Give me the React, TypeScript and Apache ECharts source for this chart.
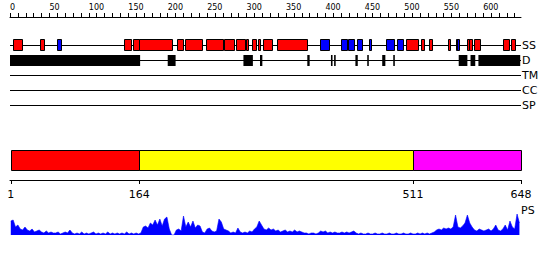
import React, { useEffect, useRef } from "react";
import * as echarts from "echarts";

const SEQ_LENGTH = 648;
const trackNames = ["SS", "D", "TM", "CC", "SP"];
const topTickValues = Array.from({ length: 65 }, (_, i) => i * 10);
const topLabelValues = [0, 50, 100, 150, 200, 250, 300, 350, 400, 450, 500, 550, 600];
const bottomLabelValues = [1, 164, 511, 648];

// secondary structure: helix (red) and strand (blue) segments [start, end]
const helixSegments = [
  [4, 15], [38, 43], [145, 154], [156, 163], [163, 205], [212, 220], [222, 244],
  [248, 270], [272, 285], [286, 298], [299, 302], [307, 312], [315, 318], [321, 332],
  [338, 376], [502, 517], [521, 525], [531, 535], [555, 557], [579, 582], [582, 586],
  [589, 597], [625, 633], [635, 640],
];
const strandSegments = [
  [59, 64], [393, 405], [420, 427], [429, 436], [440, 446], [455, 458], [477, 487],
  [491, 498], [565, 567], [567, 570],
];
// disorder segments [start, end]
const disorderSegments = [
  [0, 165], [200, 210], [296, 308], [317, 320], [377, 380], [407, 409], [411, 413],
  [438, 441], [453, 455], [472, 476], [486, 488], [569, 580], [584, 590], [594, 647],
];
// domains
const domainStarts = [1, 164, 511];
const domainEnds = [164, 511, 648];
const domainColors = ["#ff0000", "#ffff00", "#ff00ff"];

// PS profile, one value every 3 residues starting at residue 1
const psStart = 1;
const psStep = 3;
const psValues = [
  14, 15, 8, 10, 6, 5, 8, 5, 4, 6, 3, 4, 5, 3, 2, 4, 2, 3, 2, 2,
  3, 1, 2, 3, 2, 5, 2, 1, 2, 1, 3, 1, 2, 1, 2, 3, 1, 2, 1, 2,
  1, 3, 1, 2, 1, 2, 1, 2, 1, 3, 1, 2, 1, 2, 1, 2,
  8, 9, 7, 12, 10, 15, 10, 16, 9, 16, 18, 6, 0, 0, 5, 6, 4, 19, 8, 13,
  8, 14, 7, 10, 9, 3, 2, 6, 7, 4, 3, 4, 16, 13, 6, 5, 4, 2, 3, 2,
  7, 3, 2, 3, 2, 4, 3, 6, 8, 14, 10, 6, 5, 7, 5, 6, 4, 5, 3, 4,
  5, 3, 4, 3, 5, 3, 4, 3, 2, 2, 1, 2, 2, 1, 2, 4, 3, 4, 2, 3,
  2, 3, 2, 2, 3, 2, 3, 2, 3, 4, 2, 1, 2, 1, 1, 2, 1, 1, 2, 1,
  1, 2, 1, 1, 2, 1, 1, 2, 1, 1, 2, 1, 1, 2, 1, 1, 2, 1, 2, 1,
  2, 1, 2, 3, 5, 6, 5, 7, 6, 7, 6, 8, 20, 8, 7, 9, 12, 20, 12, 8,
  5, 4, 6, 5, 4, 5, 6, 4, 6, 10, 5, 4, 6, 10, 5, 14, 8, 6, 21, 12,
];

const FONT = "DejaVu Sans";

export default function App() {
  const ref = useRef<HTMLDivElement>(null);
  useEffect(() => {
    if (!ref.current) return;
    const chart = echarts.init(ref.current, undefined, { renderer: "svg" });

    const segData = (segs: number[][], track: number, kind: number) =>
      segs.map((s) => [s[0], s[1], track, kind]);
    const ssData = [
      ...segData(helixSegments, 0, 0),
      ...segData(strandSegments, 0, 1),
    ];
    const dData = segData(disorderSegments, 1, 2);
    const domainData = domainStarts.map((s, i) => [s, domainEnds[i], i]);
    const psData = psValues.map((v, i) => [psStart + i * psStep, v]);
    const kindColors = ["#ff0000", "#0000ff", "#000000"];

    const trackRender = (params: any, api: any) => {
      const s = api.coord([api.value(0), api.value(2)]);
      const e = api.coord([api.value(1), api.value(2)]);
      const kind = api.value(3);
      const fill = kindColors[kind];
      if (kind === 2) {
        return {
          type: "rect",
          shape: { x: s[0], y: Math.round(s[1]) - 5, width: Math.max(e[0] - s[0], 1.2), height: 11 },
          style: { fill, stroke: null },
        };
      }
      return {
        type: "rect",
        shape: { x: Math.round(s[0]) + 0.5, y: Math.round(s[1]) - 5.5, width: Math.max(Math.round(e[0] - s[0]), 1), height: 11 },
        style: { fill, stroke: "#000", lineWidth: 1 },
      };
    };

    chart.setOption({
      animation: false,
      backgroundColor: "#ffffff",
      textStyle: { fontFamily: FONT },
      grid: [
        { left: 10, width: 511, top: 45, height: 60 },
        { left: 10, width: 511, top: 150, height: 20 },
        { left: 10, width: 511, top: 213, height: 22 },
      ],
      xAxis: [
        {
          gridIndex: 0, type: "value", min: 0, max: SEQ_LENGTH, position: "top", offset: 28,
          axisLine: { show: true, onZero: false, lineStyle: { color: "#000", width: 1 } },
          axisTick: { show: true, length: 4, customValues: topTickValues, lineStyle: { color: "#000" } },
          axisLabel: { show: true, customValues: topLabelValues, align: "left", fontSize: 8, margin: 6, color: "#000", fontFamily: FONT },
          splitLine: { show: false },
        },
        {
          gridIndex: 1, type: "value", min: 0, max: SEQ_LENGTH, position: "bottom", offset: 10,
          axisLine: { show: true, onZero: false, lineStyle: { color: "#000", width: 1 } },
          axisTick: { show: true, length: 4, customValues: bottomLabelValues, lineStyle: { color: "#000" } },
          axisLabel: { show: true, customValues: bottomLabelValues, fontSize: 11, margin: 9, color: "#000", fontFamily: FONT },
          splitLine: { show: false },
        },
        { gridIndex: 2, type: "value", min: 0, max: SEQ_LENGTH, show: false },
      ],
      yAxis: [
        {
          gridIndex: 0, type: "category", data: trackNames, inverse: true, boundaryGap: false, position: "right",
          axisLine: { show: false }, axisTick: { show: false },
          axisLabel: { interval: 0, fontSize: 11, margin: 1, color: "#000", fontFamily: FONT },
          splitLine: { show: true, interval: 0, lineStyle: { color: "#000", width: 1 } },
        },
        { gridIndex: 1, type: "value", min: 0, max: 1, show: false },
        { gridIndex: 2, type: "value", min: 0, max: 22, show: false },
      ],
      graphic: [
        { type: "text", left: 521, top: 205, style: { text: "PS", fontSize: 11, fontFamily: FONT, fill: "#000" } },
      ],
      series: [
        {
          type: "custom", xAxisIndex: 0, yAxisIndex: 0, data: dData,
          encode: { x: [0, 1], y: 2 }, renderItem: trackRender, clip: false,
        },
        {
          type: "custom", xAxisIndex: 0, yAxisIndex: 0, data: ssData,
          encode: { x: [0, 1], y: 2 }, renderItem: trackRender, clip: false,
        },
        {
          type: "custom", xAxisIndex: 1, yAxisIndex: 1, data: domainData,
          encode: { x: [0, 1] },
          renderItem: (params: any, api: any) => {
            const s = api.coord([api.value(0), 1]);
            const e = api.coord([api.value(1), 0]);
            return {
              type: "rect",
              shape: { x: Math.round(s[0]) + 0.5, y: Math.round(s[1]) + 0.5, width: Math.round(e[0] - s[0]), height: Math.round(e[1] - s[1]) },
              style: { fill: domainColors[api.value(2)], stroke: "#000", lineWidth: 1 },
            };
          },
        },
        {
          type: "line", xAxisIndex: 2, yAxisIndex: 2, data: psData, showSymbol: false, symbol: "none",
          lineStyle: { color: "#0000ff", width: 0.6 }, areaStyle: { color: "#0000ff", opacity: 1 },
          itemStyle: { color: "#0000ff" },
        },
      ],
    });
    return () => chart.dispose();
  }, []);
  return <div ref={ref} style={{ position: "fixed", left: 0, top: 0, width: 550, height: 260 }} />;
}
